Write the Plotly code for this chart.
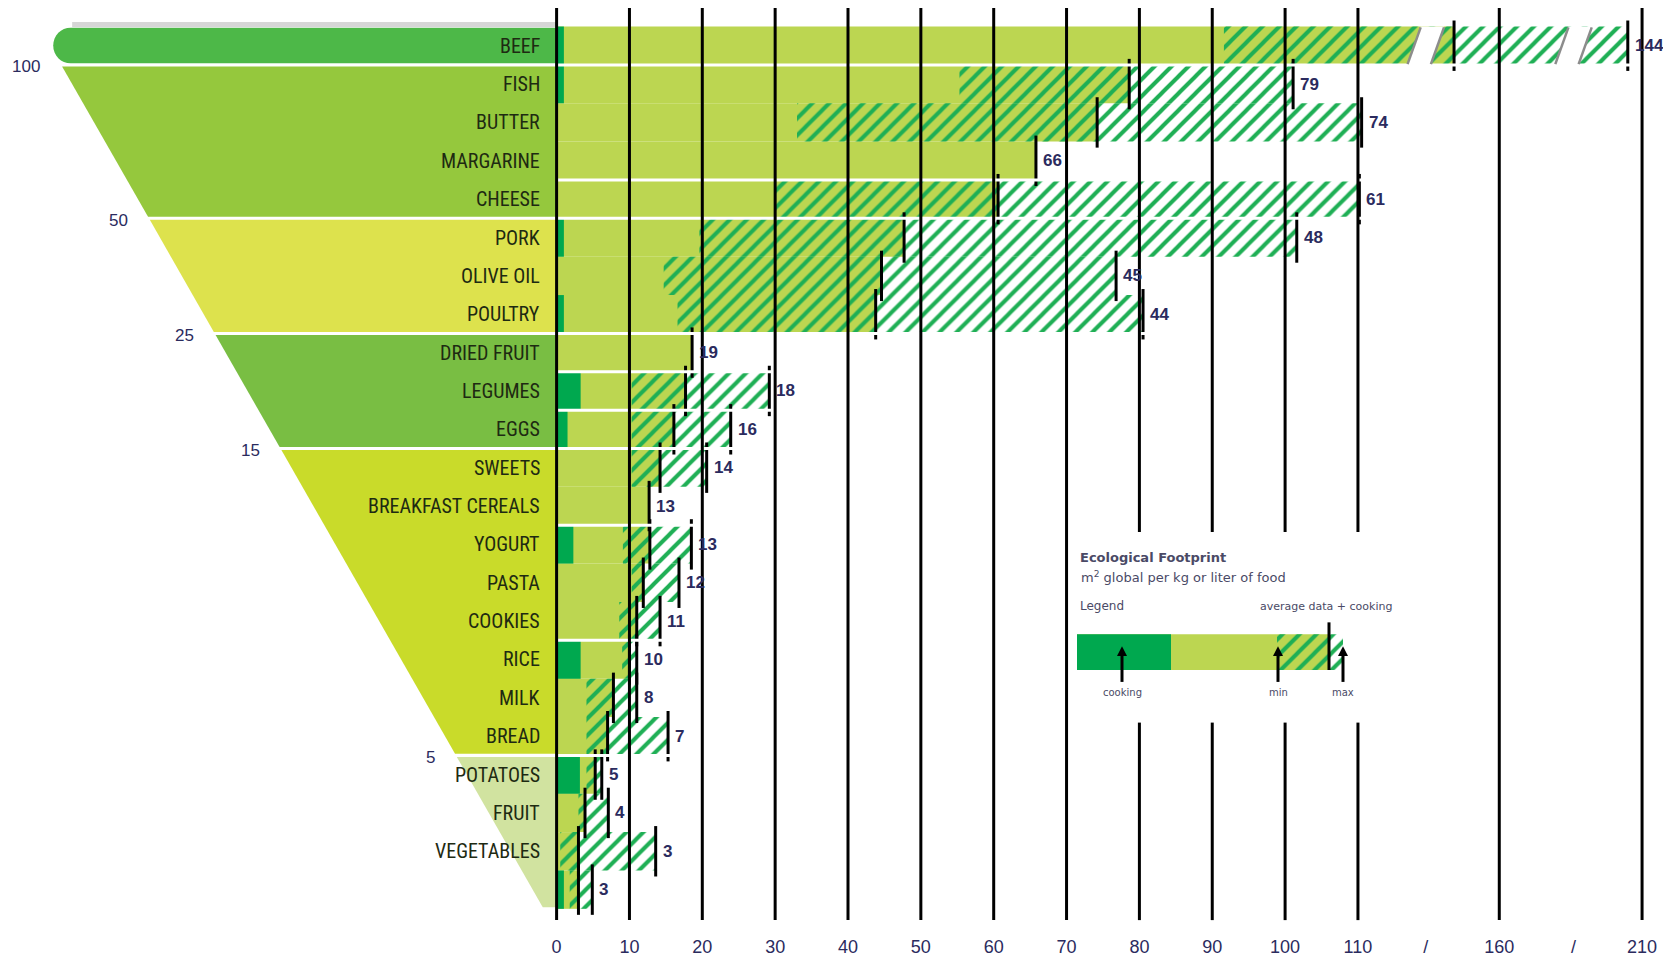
import plotly.graph_objects as go

# ---------------- data ----------------
categories = ["BEEF", "FISH", "BUTTER", "MARGARINE", "CHEESE", "PORK", "OLIVE OIL", "POULTRY",
              "DRIED FRUIT", "LEGUMES", "EGGS", "SWEETS", "BREAKFAST CEREALS", "YOGURT", "PASTA",
              "COOKIES", "RICE", "MILK", "BREAD", "POTATOES", "FRUIT", "VEGETABLES", ""]
cooking = [1.0, 1.0, 0, 0, 0, 1.0, 0, 1.0, 0, 3.3, 1.5, 0, 0, 2.3, 0, 0, 3.3, 0, 0, 3.2, 0, 0, 1.0]
minimum = [91.6, 55.3, 33, None, 30, 19.6, 14.7, 16.6, None, 10.3, 10.3, 10.3, None, 9.1, 10.3,
           8.6, 9.0, 4.1, 4.1, 4.1, 3.0, 0.5, 1.8]
average = [144, 78.6, 74.2, 65.8, 60.6, 47.7, 44.6, 43.8, 18.6, 17.7, 16.1, 14.2, 12.7, 12.8, 11.9,
           11.0, 10.0, 7.8, 7.0, 5.3, 3.9, 3.0, 3.0]
maximum = [205, 101.1, 111.3, None, 110.5, 101.6, 76.8, 80.5, None, 29.2, 23.9, 20.6, None, 18.5,
           16.8, 14.2, 11.0, 11.0, 15.3, 6.2, 7.1, 13.6, 4.9]

group_starts = [0, 1, 5, 8, 11, 19]
group_colors = ["#4DB848", "#95C83D", "#DDE24D", "#79BE43", "#C9DB2A", "#D1E3A0"]
threshold_labels = ["100", "50", "25", "15", "5"]

tick_values = [0, 10, 20, 30, 40, 50, 60, 70, 80, 90, 100, 110, 160, 210]
break_values = [134, 186]  # axis breaks shown as "/"

# rows followed by a thin white gap in the bar area (style)
separated_after = [0, 3, 4, 7, 8, 9, 10, 12, 15, 18]

# ---------------- style / layout constants ----------------
OFF = 8                      # page body margin
W, H = 1671 - 2 * OFF, 965 - 2 * OFF
B_MARGIN = 16
PLOT_H = H - B_MARGIN
X0_PX, PX_PER_UNIT = 556.6 - OFF, 7.285
ROW0_PX, ROW_PX = 46.0 - OFF, 38.65

LIME = "#BCD651"
DARK = "#00A84F"
HATCH = "#1FAF55"
NAVY = "#2B2B5E"
LABEL_COL = "#1E2A12"
LEGC = "#4A4A66"
COND = "Liberation Sans Narrow, Roboto Condensed, DejaVu Sans Condensed, Arial Narrow, sans-serif"
SANS = "Liberation Sans, Arial, sans-serif"
WIDE = "DejaVu Sans, Verdana, sans-serif"


def to_display(v):
    """broken axis: 0-110 linear, then compressed segments to 160 and 210"""
    if v <= 110:
        return v
    if v <= 160:
        return 110 + (v - 110) * (129.4 - 110) / 50
    return 129.4 + (v - 160) * (149.0 - 129.4) / 50


def xp(px):  # screen px -> x units
    return (px - OFF - X0_PX) / PX_PER_UNIT


def yp(py):  # screen px -> row units
    return (py - OFF - ROW0_PX) / ROW_PX


n = len(categories)
rows = list(range(n))
BW = 1.0
HATCH_PAT = dict(shape="/", fgcolor=HATCH, bgcolor="rgba(0,0,0,0)", size=12, solidity=0.34,
                 fillmode="replace")

fig = go.Figure()

# lime bars (0 -> average)
fig.add_trace(go.Bar(orientation="h", y=rows, x=[to_display(a) for a in average], base=0,
                     width=BW, marker=dict(color=LIME, line=dict(width=0)), hoverinfo="skip"))
# cooking bars
ck_rows = [r for r in rows if cooking[r] > 0]
fig.add_trace(go.Bar(orientation="h", y=ck_rows, x=[cooking[r] for r in ck_rows], base=0,
                     width=BW, marker=dict(color=DARK, line=dict(width=0)), hoverinfo="skip"))
# hatched range bars (min -> max)
rg_rows = [r for r in rows if minimum[r] is not None]
fig.add_trace(go.Bar(orientation="h", y=rg_rows,
                     x=[to_display(maximum[r]) - to_display(minimum[r]) for r in rg_rows],
                     base=[to_display(minimum[r]) for r in rg_rows], width=BW,
                     marker=dict(color="rgba(0,0,0,0)", line=dict(width=0), pattern=HATCH_PAT),
                     hoverinfo="skip"))
# average markers
fig.add_trace(go.Scatter(x=[to_display(a) for a in average], y=rows, mode="markers",
                         marker=dict(symbol="line-ns", size=36, color="black",
                                     line=dict(width=3, color="black")), hoverinfo="skip"))
# max markers
fig.add_trace(go.Scatter(x=[to_display(maximum[r]) for r in rg_rows], y=rg_rows, mode="markers",
                         marker=dict(symbol="line-ns", size=36, color="black",
                                     line=dict(width=3, color="black")), hoverinfo="skip"))

# ---- legend sample bars ----
LEG_Y = yp(657)
LEG_W = 36 / ROW_PX
fig.add_trace(go.Bar(orientation="h", y=[LEG_Y], x=[xp(1329) - xp(1077)], base=[xp(1077)], width=LEG_W,
                     marker=dict(color=LIME, line=dict(width=0)), hoverinfo="skip"))
fig.add_trace(go.Bar(orientation="h", y=[LEG_Y], x=[xp(1171) - xp(1077)], base=[xp(1077)], width=LEG_W,
                     marker=dict(color=DARK, line=dict(width=0)), hoverinfo="skip"))
fig.add_trace(go.Bar(orientation="h", y=[LEG_Y], x=[xp(1343) - xp(1277)], base=[xp(1277)], width=LEG_W,
                     marker=dict(color="rgba(0,0,0,0)", line=dict(width=0), pattern=HATCH_PAT),
                     hoverinfo="skip"))

shapes = []
annotations = []


# ---- funnel ----
def edge(r):
    return -68.0 + (r - 0.5) * 3.01


gap = 0.04
group_ends = group_starts[1:] + [n]
for gi, (s, e) in enumerate(zip(group_starts, group_ends)):
    top = s - 0.5 + (gap if gi > 0 else 0.03)
    bot = (e - 1) + 0.5 - gap if gi < len(group_starts) - 1 else 22.46
    col = group_colors[gi]
    if gi == 0:
        xl = -69.1
        rx = 2.4
        path = (f"M 0,{top} L {xl + rx},{top} C {xl + rx * 0.45},{top} {xl},{top + 0.2} {xl},{(top + bot) / 2} "
                f"C {xl},{bot - 0.2} {xl + rx * 0.45},{bot} {xl + rx},{bot} L 0,{bot} Z")
    else:
        path = f"M {edge(top)},{top} L 0,{top} L 0,{bot} L {edge(bot)},{bot} Z"
    shapes.append(dict(type="path", path=path, fillcolor=col, line=dict(width=0), layer="below",
                       xref="x", yref="y"))

# faint shadow line above beef band
shapes.append(dict(type="rect", x0=-66.5, x1=0, y0=-0.62, y1=-0.48, fillcolor="#D6D6D6",
                   line=dict(width=0), layer="below", xref="x", yref="y"))

# thin white gaps between some bar rows (drawn under the grid lines)
for r in separated_after:
    ext = max(to_display(maximum[k] if maximum[k] is not None else average[k]) for k in (r, r + 1))
    shapes.append(dict(type="line", x0=0, x1=ext + 1.5, y0=r + 0.5, y1=r + 0.5,
                       line=dict(color="white", width=3), layer="above", xref="x", yref="y"))

# threshold numbers
for lab, s in zip(threshold_labels, group_starts[1:]):
    b = s - 0.5
    annotations.append(dict(x=edge(b), y=b, text=lab, showarrow=False, xanchor="right",
                            xshift=-19, yshift=-2, font=dict(family=SANS, size=17, color=NAVY)))

# category labels
for r, c in enumerate(categories):
    if c:
        annotations.append(dict(x=0, y=r, text=c, showarrow=False, xanchor="right", xshift=-15,
                                font=dict(family=COND, size=20, color=LABEL_COL)))

# value labels
for r in rows:
    end = maximum[r] if maximum[r] is not None else average[r]
    annotations.append(dict(x=to_display(end), y=r, text=f"{average[r]:.0f}", showarrow=False,
                            xanchor="left", xshift=5,
                            font=dict(family=SANS, size=17, color=NAVY, weight="bold")))

# ---- grid lines ----
GY0, GY1 = yp(5), yp(927)
CUT0, CUT1 = yp(536), yp(728)
for v in tick_values:
    xv = to_display(v)
    if v in (80, 90, 100, 110):
        segs = [(GY0, CUT0), (CUT1, GY1)]
    else:
        segs = [(GY0, GY1)]
    for a, b in segs:
        shapes.append(dict(type="line", x0=xv, x1=xv, y0=a, y1=b, line=dict(color="black", width=3),
                           layer="above", xref="x", yref="y"))

# ---- breaks on beef bar ----
for bv in break_values:
    c = to_display(bv)
    hw, sl = 1.6, 0.9
    t, b = -0.5, 0.5
    shapes.append(dict(type="path",
                       path=f"M {c - hw - sl},{b} L {c - hw + sl},{t} L {c + hw + sl},{t} L {c + hw - sl},{b} Z",
                       fillcolor="white", line=dict(width=0), layer="above", xref="x", yref="y"))
    for sx in (-hw, hw):
        shapes.append(dict(type="line", x0=c + sx - sl, y0=b - 0.02, x1=c + sx + sl, y1=t + 0.02,
                           line=dict(color="#8C8C8C", width=2.5), layer="above", xref="x", yref="y"))

# ---- legend decorations ----
shapes.append(dict(type="line", x0=xp(1329), x1=xp(1329), y0=yp(627), y1=yp(675),
                   line=dict(color="black", width=3), layer="above", xref="x", yref="y"))
annotations += [
    dict(x=xp(1078), y=yp(562), text="<b>Ecological Footprint</b>", showarrow=False, xanchor="left",
         font=dict(family=WIDE, size=13, color=LEGC)),
    dict(x=xp(1079), y=yp(581), text="m<sup>2</sup> global per kg or liter of food", showarrow=False,
         xanchor="left", font=dict(family=WIDE, size=13, color=LEGC)),
    dict(x=xp(1078), y=yp(611), text="Legend", showarrow=False, xanchor="left",
         font=dict(family=WIDE, size=12, color=LEGC)),
    dict(x=xp(1258), y=yp(611), text="average data + cooking", showarrow=False, xanchor="left",
         font=dict(family=WIDE, size=11, color=LEGC)),
]
AH = 5 / PX_PER_UNIT
for px_, lab in [(1122, "cooking"), (1278, "min"), (1343, "max")]:
    xv = xp(px_)
    shapes.append(dict(type="line", x0=xv, x1=xv, y0=yp(687), y1=yp(658),
                       line=dict(color="black", width=3), layer="above", xref="x", yref="y"))
    shapes.append(dict(type="path", path=f"M {xv - AH},{yp(661)} L {xv},{yp(651)} L {xv + AH},{yp(661)} Z",
                       fillcolor="black", line=dict(width=0), layer="above", xref="x", yref="y"))
    annotations.append(dict(x=xv, y=yp(698), text=lab, showarrow=False,
                            font=dict(family=WIDE, size=10, color=LEGC)))

# ---- axis ticks ----
tv = [to_display(v) for v in tick_values] + [to_display(b) for b in break_values]
tt = [str(v) for v in tick_values] + ["/" for _ in break_values]

fig.update_layout(
    width=W, height=H, margin=dict(l=0, r=0, t=0, b=B_MARGIN),
    paper_bgcolor="white", plot_bgcolor="white", showlegend=False, barmode="overlay",
    xaxis=dict(range=[-X0_PX / PX_PER_UNIT, (W - X0_PX) / PX_PER_UNIT], tickvals=tv, ticktext=tt,
               showgrid=False, zeroline=False, showline=False, ticks="",
               tickfont=dict(family=SANS, size=18, color=NAVY), fixedrange=True),
    yaxis=dict(range=[(PLOT_H - ROW0_PX) / ROW_PX, -ROW0_PX / ROW_PX], showgrid=False, zeroline=False,
               showticklabels=False, showline=False, ticks="", fixedrange=True),
    shapes=shapes, annotations=annotations,
)

fig.write_html("out.html")
